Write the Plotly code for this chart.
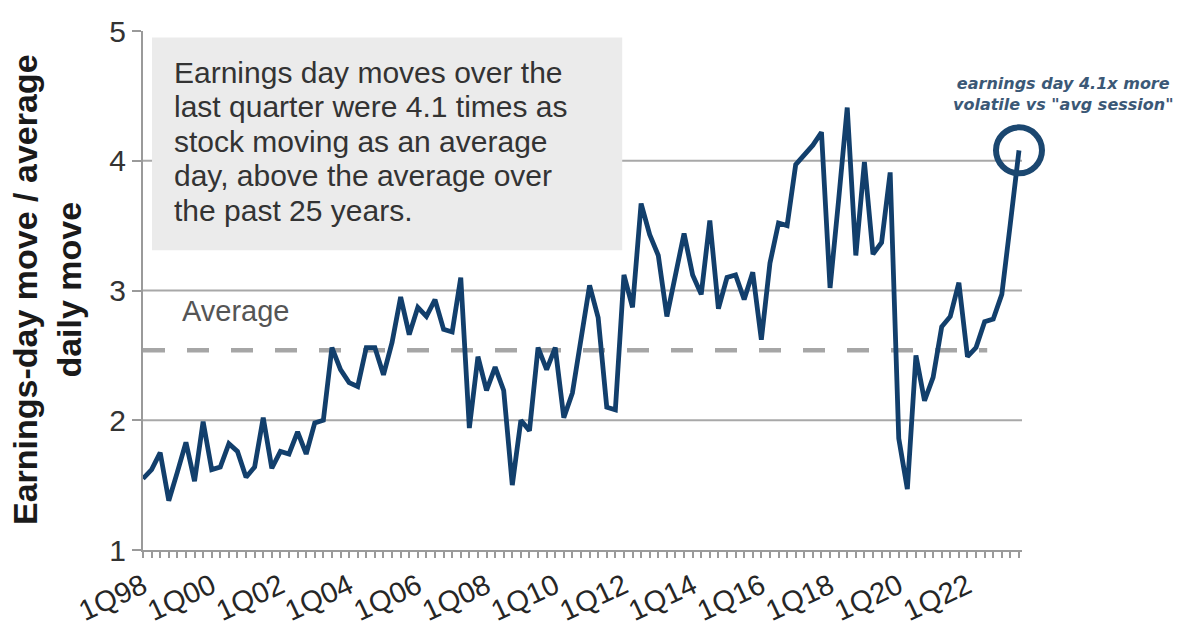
import plotly.graph_objects as go

# Quarterly ratio of earnings-day move to average daily move, 1Q98 - 3Q23
years = list(range(1998, 2024))
quarters = [f"{q}Q{y % 100:02d}" for y in years for q in range(1, 5)][:103]

ratio = [
    1.55, 1.62, 1.75, 1.38, 1.60, 1.83, 1.53, 1.99, 1.62, 1.64,
    1.82, 1.76, 1.56, 1.64, 2.02, 1.63, 1.76, 1.74, 1.91, 1.74,
    1.98, 2.00, 2.56, 2.39, 2.29, 2.26, 2.56, 2.56, 2.35, 2.60,
    2.95, 2.66, 2.87, 2.80, 2.93, 2.70, 2.68, 3.10, 1.94, 2.49,
    2.23, 2.41, 2.23, 1.50, 2.00, 1.92, 2.56, 2.39, 2.56, 2.02,
    2.21, 2.62, 3.04, 2.79, 2.10, 2.08, 3.12, 2.87, 3.67, 3.43,
    3.27, 2.80, 3.10, 3.44, 3.12, 2.97, 3.54, 2.86, 3.10, 3.12,
    2.93, 3.14, 2.62, 3.21, 3.52, 3.50, 3.97, 4.05, 4.12, 4.22,
    3.02, 3.70, 4.41, 3.27, 3.99, 3.28, 3.37, 3.91, 1.86, 1.47,
    2.50, 2.15, 2.33, 2.72, 2.80, 3.06, 2.49, 2.56, 2.76, 2.78,
    2.97, 3.52, 4.08,
]
average = 2.54

tick_labels = ["1Q98", "1Q00", "1Q02", "1Q04", "1Q06", "1Q08", "1Q10",
               "1Q12", "1Q14", "1Q16", "1Q18", "1Q20", "1Q22"]
y_ticks = [1, 2, 3, 4, 5]
grid_values = [2, 3, 4]

box_lines = [
    "Earnings day moves over the",
    "last quarter were 4.1 times as",
    "stock moving as an average",
    "day, above the average over",
    "the past 25 years.",
]

FONT = "Liberation Sans, Arial, sans-serif"
NAVY = "#123f6c"
GRID = "#a8a8a8"
TEXT = "#262626"

X_MAX = 102.35
Y_MIN, Y_MAX = 1, 5

fig = go.Figure()

fig.add_trace(go.Scatter(
    x=quarters, y=ratio, mode="lines",
    line=dict(color=NAVY, width=4.8),
    hoverinfo="x+y", showlegend=False,
))

shapes = []
for g in grid_values:
    shapes.append(dict(type="line", xref="paper", yref="y", x0=0, x1=1,
                       y0=g, y1=g, line=dict(color=GRID, width=2),
                       layer="below"))

# grey commentary box
shapes.append(dict(type="rect", xref="x", yref="y", x0=1.05, x1=55.8,
                   y0=3.31, y1=4.95, fillcolor="#ebebeb",
                   line=dict(width=0), layer="below"))

# long-run average
shapes.append(dict(type="line", xref="x", yref="y", x0=0, x1=98.3,
                   y0=average, y1=average,
                   line=dict(color="#a6a6a6", width=4.5, dash="22px,22px"),
                   layer="below"))

# ring around the latest quarter
last_i = len(ratio) - 1
shapes.append(dict(type="circle", xref="paper", yref="paper",
                   xsizemode="pixel", ysizemode="pixel",
                   xanchor=last_i / X_MAX,
                   yanchor=(ratio[-1] - Y_MIN) / (Y_MAX - Y_MIN),
                   x0=-23, x1=23, y0=-23, y1=23,
                   line=dict(color="#1b4770", width=6)))

annotations = []
line_top = 4.684
for k, txt in enumerate(box_lines):
    annotations.append(dict(
        xref="x", yref="y", x=3.38, y=line_top - 0.266 * k,
        xanchor="left", yanchor="middle", text=txt, showarrow=False,
        font=dict(family=FONT, size=30, color="#333333"),
    ))

annotations.append(dict(
    xref="x", yref="y", x=4.3, y=average + 0.16, xanchor="left",
    yanchor="bottom", text="Average", showarrow=False,
    font=dict(family=FONT, size=29, color="#555555"),
))

annotations.append(dict(
    xref="paper", yref="paper", x=(1063 - 143) / 879, y=(550 - 94) / 519,
    xanchor="center", yanchor="middle",
    text="earnings day 4.1x more<br>volatile vs \"avg session\"",
    showarrow=False,
    font=dict(family="DejaVu Sans, Verdana, sans-serif", size=16,
              color="#3b5876", weight="bold", style="italic"),
))

annotations.append(dict(
    xref="paper", yref="paper", x=(47 - 143) / 879, y=(550 - 290) / 519,
    xanchor="center", yanchor="middle", textangle=-90,
    text="<b>Earnings-day move / average<br>daily move</b>",
    showarrow=False,
    font=dict(family=FONT, size=34, color="#1a1a1a"),
))

fig.update_layout(
    width=1182, height=628,
    margin=dict(l=143, r=160, t=31, b=78, autoexpand=False),
    paper_bgcolor="white", plot_bgcolor="white",
    font=dict(family=FONT, color=TEXT),
    shapes=shapes, annotations=annotations,
    xaxis=dict(
        type="category", range=[0, X_MAX], automargin=False,
        tickvals=quarters,
        ticktext=[q if q in tick_labels else "" for q in quarters],
        tickangle=-25, ticks="outside", ticklen=6, tickwidth=1.5,
        tickcolor="#9a9a9a", showline=True, linecolor="#9a9a9a",
        linewidth=2, showgrid=False, zeroline=False,
        tickfont=dict(family=FONT, size=29, color=TEXT),
    ),
    yaxis=dict(
        range=[Y_MIN, Y_MAX], tickvals=y_ticks, ticks="outside",
        automargin=False,
        ticklen=9, tickwidth=1.5, tickcolor="#9a9a9a",
        showline=True, linecolor="#9a9a9a", linewidth=2,
        showgrid=False, zeroline=False,
        tickfont=dict(family=FONT, size=30, color="#333333"),
    ),
)

fig.write_html("out.html")
